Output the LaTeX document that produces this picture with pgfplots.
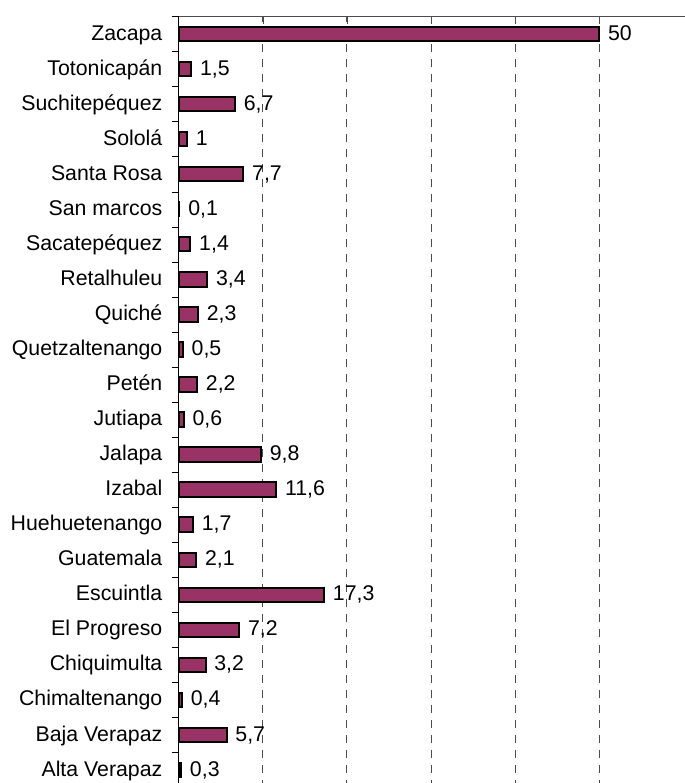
\documentclass[border=0pt]{standalone}
\usepackage{pgfplots}
\pgfplotsset{compat=1.18}
\usepackage{fontspec}
\setmainfont{Liberation Sans}
\definecolor{plum}{HTML}{993366}
\begin{document}
\begin{tikzpicture}
\begin{axis}[
    scale only axis,
    width=253.2pt, height=385.5pt,
    xbar, bar width=0.41,
    xmin=0, xmax=60.2,
    ymin=-0.5, ymax=21.5,
    axis x line*=top, axis y line*=left,
    x axis line style={black!70},
    xtick={10,20,30,40,50}, xticklabel=\empty,
    xmajorgrids,
    major grid style={black!70, dash pattern=on 4pt off 3.5pt},
    ytick={-0.5,0.5,...,21.5},
    y tick label as interval,
    major tick length=3.5pt,
    tick align=inside,
    xtick style={black!70},
    ytick style={black, xshift=-3.5pt},
    yticklabels={Alta Verapaz, Baja Verapaz, Chimaltenango, Chiquimulta, El Progreso, Escuintla, Guatemala, Huehuetenango, Izabal, Jalapa, Jutiapa, Petén, Quetzaltenango, Quiché, Retalhuleu, Sacatepéquez, San marcos, Santa Rosa, Sololá, Suchitepéquez, Totonicapán, Zacapa},
    yticklabel style={font=\fontsize{10.65}{12}\selectfont, text height=1.6ex, text depth=0.45ex, xshift=-4.6pt},
    nodes near coords,
    nodes near coords style={font=\fontsize{10.65}{12}\selectfont, text height=1.6ex, text depth=0.45ex, xshift=0.6pt},
    /pgf/number format/use comma,
    /pgf/number format/assume math mode=true,
    clip=false,
]
\addplot[fill=plum, draw=black, line width=1pt] coordinates {
    (0.3,0) (5.7,1) (0.4,2) (3.2,3) (7.2,4) (17.3,5) (2.1,6) (1.7,7)
    (11.6,8) (9.8,9) (0.6,10) (2.2,11) (0.5,12) (2.3,13) (3.4,14) (1.4,15)
    (0.1,16) (7.7,17) (1,18) (6.7,19) (1.5,20) (50,21)
};
\end{axis}
\pgfresetboundingbox
\useasboundingbox (-89.3pt,2.25pt) rectangle (253.2pt,393.75pt);
\end{tikzpicture}
\end{document}
